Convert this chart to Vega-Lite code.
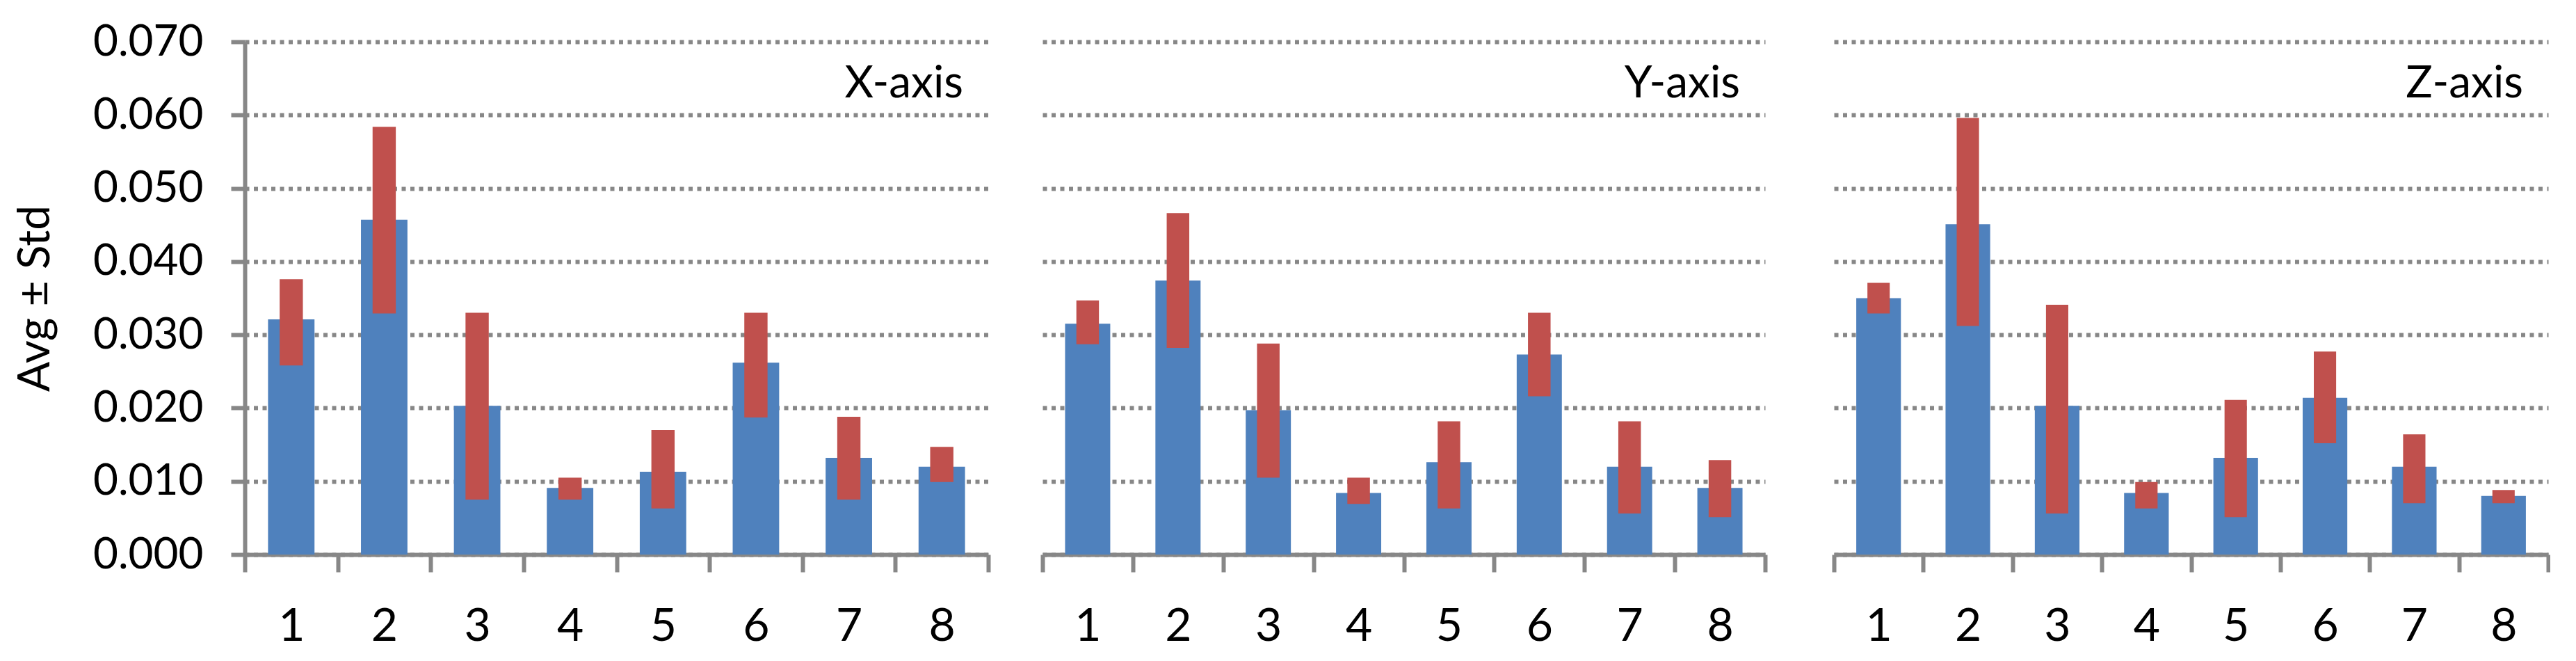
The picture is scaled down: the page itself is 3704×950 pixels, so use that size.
{
  "$schema": "https://vega.github.io/schema/vega-lite/v6.json",
  "background": "white",
  "autosize": {"type": "pad"},
  "padding": {"left": 19, "top": 29, "right": 0, "bottom": 0},
  "datasets": {
    "xaxis": [
      {"cat": "1", "avg": 0.0321, "lo": 0.0258, "hi": 0.0376},
      {"cat": "2", "avg": 0.0457, "lo": 0.0329, "hi": 0.0584},
      {"cat": "3", "avg": 0.0203, "lo": 0.0075, "hi": 0.0330},
      {"cat": "4", "avg": 0.0091, "lo": 0.0075, "hi": 0.0105},
      {"cat": "5", "avg": 0.0113, "lo": 0.0063, "hi": 0.0170},
      {"cat": "6", "avg": 0.0262, "lo": 0.0187, "hi": 0.0330},
      {"cat": "7", "avg": 0.0132, "lo": 0.0075, "hi": 0.0188},
      {"cat": "8", "avg": 0.0120, "lo": 0.0099, "hi": 0.0147}
    ],
    "yaxis": [
      {"cat": "1", "avg": 0.0315, "lo": 0.0287, "hi": 0.0347},
      {"cat": "2", "avg": 0.0374, "lo": 0.0282, "hi": 0.0466},
      {"cat": "3", "avg": 0.0197, "lo": 0.0105, "hi": 0.0288},
      {"cat": "4", "avg": 0.0084, "lo": 0.0069, "hi": 0.0105},
      {"cat": "5", "avg": 0.0126, "lo": 0.0063, "hi": 0.0182},
      {"cat": "6", "avg": 0.0273, "lo": 0.0216, "hi": 0.0330},
      {"cat": "7", "avg": 0.0120, "lo": 0.0056, "hi": 0.0182},
      {"cat": "8", "avg": 0.0091, "lo": 0.0051, "hi": 0.0129}
    ],
    "zaxis": [
      {"cat": "1", "avg": 0.0350, "lo": 0.0329, "hi": 0.0371},
      {"cat": "2", "avg": 0.0451, "lo": 0.0312, "hi": 0.0596},
      {"cat": "3", "avg": 0.0203, "lo": 0.0056, "hi": 0.0341},
      {"cat": "4", "avg": 0.0084, "lo": 0.0063, "hi": 0.0099},
      {"cat": "5", "avg": 0.0132, "lo": 0.0051, "hi": 0.0211},
      {"cat": "6", "avg": 0.0214, "lo": 0.0152, "hi": 0.0277},
      {"cat": "7", "avg": 0.0120, "lo": 0.0070, "hi": 0.0164},
      {"cat": "8", "avg": 0.0080, "lo": 0.0070, "hi": 0.0088}
    ]
  },
  "config": {
    "view": {"stroke": null},
    "font": "Lato",
    "axis": {
      "domainColor": "#878787", "domainWidth": 6,
      "tickColor": "#878787", "tickWidth": 6,
      "labelColor": "black", "labelFont": "Lato", "titleFont": "Lato", "titleColor": "black",
      "gridColor": "#878787", "gridDash": [6, 6.5], "gridWidth": 6, "gridOpacity": 1
    }
  },
  "spacing": 78,
  "bounds": "flush",
  "hconcat": [
    {
      "width": 1069, "height": 737,
      "data": {"name": "xaxis"},
      "title": {"text": "X-axis", "anchor": "end", "frame": "group", "offset": -175, "baseline": "alphabetic", "dx": -36, "fontSize": 64, "fontWeight": "normal", "font": "Lato", "color": "black"},
      "encoding": {
        "x": {"field": "cat", "type": "ordinal", "scale": {"paddingInner": 0, "paddingOuter": 0},
          "axis": {"title": null, "tickBand": "extent", "labelAngle": 0, "labelFontSize": 66, "labelBaseline": "alphabetic", "labelPadding": 98, "tickSize": 25}}
      },
      "layer": [
        {"mark": {"type": "bar", "color": "#4F81BD", "width": {"band": 0.5}},
         "encoding": {"y": {"field": "avg", "type": "quantitative", "title": "Avg ± Std", "scale": {"domain": [0, 0.07], "nice": false},
           "axis": {"values": [0, 0.01, 0.02, 0.03, 0.04, 0.05, 0.06, 0.07], "format": ".3f", "labelFontSize": 62, "tickSize": 20, "labelPadding": 40, "titleFontSize": 64, "titleFontWeight": "normal", "titlePadding": 69, "grid": true, "gridWidth": 6, "gridDash": [6, 6.5]}}}},
        {"mark": {"type": "bar", "color": "#C0504D", "width": {"band": 0.25}},
         "encoding": {"y": {"field": "lo", "type": "quantitative", "title": "Avg ± Std"}, "y2": {"field": "hi"}}}
      ]
    },
    {
      "spacing": 99,
      "bounds": "flush",
      "hconcat": [
        {
          "width": 1039, "height": 737,
          "data": {"name": "yaxis"},
          "title": {"text": "Y-axis", "anchor": "end", "frame": "group", "offset": -144, "baseline": "alphabetic", "dx": -36, "fontSize": 64, "fontWeight": "normal", "font": "Lato", "color": "black"},
          "encoding": {
            "x": {"field": "cat", "type": "ordinal", "scale": {"paddingInner": 0, "paddingOuter": 0},
              "axis": {"title": null, "tickBand": "extent", "labelAngle": 0, "labelFontSize": 66, "labelBaseline": "alphabetic", "labelPadding": 98, "tickSize": 25}}
          },
          "layer": [
            {"mark": {"type": "bar", "color": "#4F81BD", "width": {"band": 0.5}},
             "encoding": {"y": {"field": "avg", "type": "quantitative", "title": null, "scale": {"domain": [0, 0.07], "nice": false},
               "axis": {"values": [0, 0.01, 0.02, 0.03, 0.04, 0.05, 0.06, 0.07], "labels": false, "ticks": false, "domain": false, "grid": true, "gridWidth": 6, "gridDash": [6, 6.5]}}}},
            {"mark": {"type": "bar", "color": "#C0504D", "width": {"band": 0.25}},
             "encoding": {"y": {"field": "lo", "type": "quantitative", "title": null}, "y2": {"field": "hi"}}}
          ]
        },
        {
          "width": 1027, "height": 737,
          "data": {"name": "zaxis"},
          "title": {"text": "Z-axis", "anchor": "end", "frame": "group", "offset": -144, "baseline": "alphabetic", "dx": -36, "fontSize": 64, "fontWeight": "normal", "font": "Lato", "color": "black"},
          "encoding": {
            "x": {"field": "cat", "type": "ordinal", "scale": {"paddingInner": 0, "paddingOuter": 0},
              "axis": {"title": null, "tickBand": "extent", "labelAngle": 0, "labelFontSize": 66, "labelBaseline": "alphabetic", "labelPadding": 98, "tickSize": 25}}
          },
          "layer": [
            {"mark": {"type": "bar", "color": "#4F81BD", "width": {"band": 0.5}},
             "encoding": {"y": {"field": "avg", "type": "quantitative", "title": null, "scale": {"domain": [0, 0.07], "nice": false},
               "axis": {"values": [0, 0.01, 0.02, 0.03, 0.04, 0.05, 0.06, 0.07], "labels": false, "ticks": false, "domain": false, "grid": true, "gridWidth": 6, "gridDash": [6, 6.5]}}}},
            {"mark": {"type": "bar", "color": "#C0504D", "width": {"band": 0.25}},
             "encoding": {"y": {"field": "lo", "type": "quantitative", "title": null}, "y2": {"field": "hi"}}}
          ]
        }
      ]
    }
  ]
}
